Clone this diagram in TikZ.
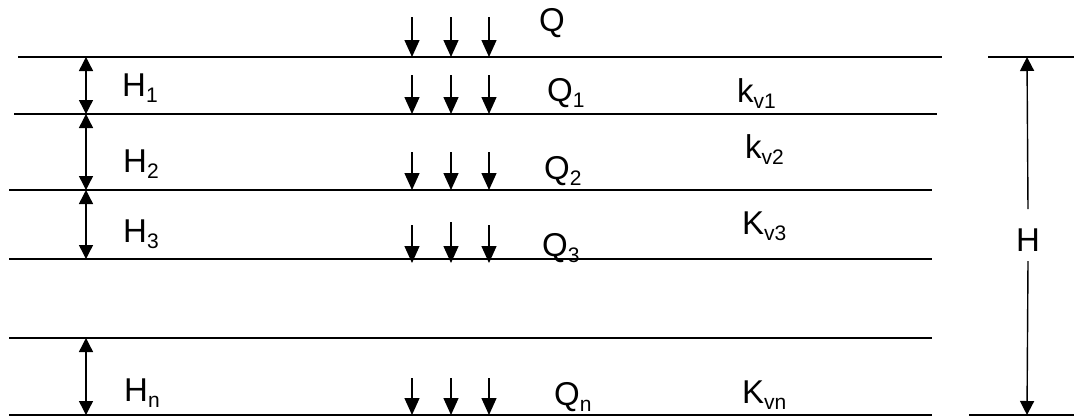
\documentclass[tikz,border=0pt]{standalone}
\usepackage{fontspec}
\setmainfont{Liberation Sans}
\usetikzlibrary{arrows.meta}

\newcommand{\lsub}[1]{\raisebox{-6pt}{\fontsize{21}{21}\selectfont #1}}

\tikzset{
    layer/.style={line width=2pt},
    load/.style={line width=1.4pt, -{Triangle[length=17pt,width=15pt]}},
    dimarrow/.style={line width=1.4pt, {Triangle[length=14pt,width=14pt]}-{Triangle[length=14pt,width=14pt]}},
    lbl/.style={anchor=base west, inner sep=0pt, font=\fontsize{33}{33}\selectfont}
}

\begin{document}
\begin{tikzpicture}[x=1pt, y=-1pt]
        \useasboundingbox (0, 0) rectangle (1074, 416);

        \draw[layer] (18, 57) -- (942, 57);
        \draw[layer] (14, 114) -- (937, 114);
        \draw[layer] (9, 190) -- (932, 190);
        \draw[layer] (9, 259) -- (932, 259);
        \draw[layer] (9, 338) -- (932, 338);
        \draw[layer] (9, 415) -- (932, 415);
        \draw[layer] (988, 57) -- (1074, 57);
        \draw[layer] (969, 415) -- (1074, 415);

        \coordinate (l0) at (86, 57);
        \coordinate (l1) at (86, 114);
        \coordinate (l2) at (86, 190);
        \coordinate (l3) at (86, 259);
        \coordinate (l4) at (86, 338);
        \coordinate (l5) at (86, 415);
        \draw[dimarrow] (l0) -- (l1);
        \draw[dimarrow] (l1) -- (l2);
        \draw[dimarrow] (l2) -- (l3);
        \draw[dimarrow] (l4) -- (l5);

        \draw[load] (412, 17) -- (412, 57);
        \draw[load] (451, 17) -- (451, 57);
        \draw[load] (489, 17) -- (489, 57);
        \draw[load] (412, 75) -- (412, 114);
        \draw[load] (451, 75) -- (451, 114);
        \draw[load] (489, 75) -- (489, 114);
        \draw[load] (412, 152) -- (412, 190);
        \draw[load] (451, 152) -- (451, 190);
        \draw[load] (489, 152) -- (489, 190);
        \draw[load] (412, 225) -- (412, 263);
        \draw[load] (451, 222) -- (451, 263);
        \draw[load] (489, 225) -- (489, 263);
        \draw[load] (412, 378) -- (412, 415);
        \draw[load] (451, 378) -- (451, 415);
        \draw[load] (489, 378) -- (489, 415);

        \node[lbl] (h1) at (122, 96) {H\lsub{1}};
        \node[lbl] (h2) at (123, 172) {H\lsub{2}};
        \node[lbl] (h3) at (123, 242) {H\lsub{3}};
        \node[lbl] (hn) at (124, 401) {H\lsub{n}};

        \node[lbl] (q) at (539, 31) {Q};
        \node[lbl] (q1) at (547, 101) {Q\lsub{1}};
        \node[lbl] (q2) at (544, 179) {Q\lsub{2}};
        \node[lbl] (q3) at (542, 256) {Q\lsub{3}};
        \node[lbl] (qn) at (554, 405) {Q\lsub{n}};

        \node[lbl] (kv1) at (737, 102) {k\lsub{v1}};
        \node[lbl] (kv2) at (745, 158) {k\lsub{v2}};
        \node[lbl] (kv3) at (742, 234) {K\lsub{v3}};
        \node[lbl] (kvn) at (742, 403) {K\lsub{vn}};

        \coordinate (htop) at (1027, 57);
        \coordinate (hbot) at (1027, 415);
        \node[lbl, anchor=base] (htot) at (1028, 251) {H};
        \draw[line width=1.4pt, -{Triangle[length=14pt,width=14pt]}] ([yshift=19pt]htot.north) -- (htop);
        \draw[line width=1.4pt, -{Triangle[length=14pt,width=14pt]}] ([yshift=-10pt]htot.south) -- (hbot);

    \end{tikzpicture}
\end{document}
